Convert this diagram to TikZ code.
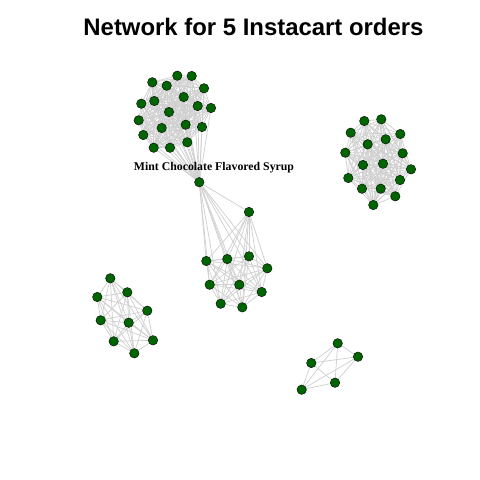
\documentclass[tikz,border=0pt]{standalone}
\usepackage{fontspec}
\setmainfont{Liberation Serif}
\setsansfont{Liberation Sans}

\definecolor{itemgreen}{RGB}{0,100,0}
\definecolor{tiegray}{RGB}{208,208,208}
\pgfdeclarelayer{bg}
\pgfsetlayers{bg,main}

\begin{document}
\begin{tikzpicture}[x=1pt,y=-1pt,semithick]
  \tikzstyle{item}=[circle,fill=itemgreen,draw=black,thin,inner sep=0pt,minimum size=9.5pt]
  \tikzstyle{tie}=[draw=tiegray,line width=0.75pt]
  \useasboundingbox (0,0) rectangle (480,480);

  % title
  \node[anchor=base,font=\sffamily\bfseries\fontsize{23.9}{24}\selectfont] (title) at (253.5,35.5) {Network for 5 Instacart orders};

  % order 1 (top left)
  \node[item] (t1)  at (152.3,82.3) {};
  \node[item] (t2)  at (177.3,75.7) {};
  \node[item] (t3)  at (191.7,76) {};
  \node[item] (t4)  at (166.7,85.7) {};
  \node[item] (t5)  at (204,88.3) {};
  \node[item] (t6)  at (183.7,97) {};
  \node[item] (t7)  at (154.3,101) {};
  \node[item] (t8)  at (141.3,103.7) {};
  \node[item] (t9)  at (197.7,106) {};
  \node[item] (t10) at (211,108) {};
  \node[item] (t11) at (169,112) {};
  \node[item] (t12) at (138.7,120.3) {};
  \node[item] (t13) at (185.7,124.7) {};
  \node[item] (t14) at (161.7,128) {};
  \node[item] (t15) at (202,127) {};
  \node[item] (t16) at (143.3,135) {};
  \node[item] (t17) at (187.3,142.3) {};
  \node[item] (t18) at (153.7,147.7) {};
  \node[item] (t19) at (170,147.7) {};
  \node[item] (mint) at (199.3,182.2) {};
  \node[anchor=base,font=\bfseries\fontsize{11.8}{12}\selectfont] (mintlabel) at (214,170.7) {Mint Chocolate Flavored Syrup};

  % order 2 (top right)
  \node[item] (r1)  at (364.3,121) {};
  \node[item] (r2)  at (381.3,119.3) {};
  \node[item] (r3)  at (350.7,132.7) {};
  \node[item] (r4)  at (400.3,134) {};
  \node[item] (r5)  at (385.7,139.3) {};
  \node[item] (r6)  at (367.7,144.3) {};
  \node[item] (r7)  at (345.3,152.7) {};
  \node[item] (r8)  at (402.7,153.3) {};
  \node[item] (r9)  at (363,165) {};
  \node[item] (r10) at (383,163.7) {};
  \node[item] (r11) at (411,169.3) {};
  \node[item] (r12) at (348.3,178) {};
  \node[item] (r13) at (400,180) {};
  \node[item] (r14) at (362,188.7) {};
  \node[item] (r15) at (380.7,188.7) {};
  \node[item] (r16) at (395.3,196.3) {};
  \node[item] (r17) at (373.3,205) {};

  % order 3 (middle)
  \node[item] (c1)  at (249,212) {};
  \node[item] (c2)  at (206.3,261) {};
  \node[item] (c3)  at (227.3,259) {};
  \node[item] (c4)  at (249,256.3) {};
  \node[item] (c5)  at (267.3,268.3) {};
  \node[item] (c6)  at (209.7,284.7) {};
  \node[item] (c7)  at (239.3,284.7) {};
  \node[item] (c8)  at (261.7,292) {};
  \node[item] (c9)  at (220.7,303.7) {};
  \node[item] (c10) at (242.3,307.3) {};

  % order 4 (bottom left)
  \node[item] (d1) at (110.3,278.3) {};
  \node[item] (d2) at (97.3,297) {};
  \node[item] (d3) at (127.3,292.3) {};
  \node[item] (d4) at (147.3,310.7) {};
  \node[item] (d5) at (100.7,320.3) {};
  \node[item] (d6) at (128.7,322.7) {};
  \node[item] (d7) at (113.7,341.3) {};
  \node[item] (d8) at (153,340.3) {};
  \node[item] (d9) at (134.3,353.3) {};

  % order 5 (bottom right)
  \node[item] (e1) at (337.7,343.3) {};
  \node[item] (e2) at (358,356.7) {};
  \node[item] (e3) at (311.3,363) {};
  \node[item] (e4) at (335,382.7) {};
  \node[item] (e5) at (301.7,389.7) {};

  % every order is a clique
  \begin{pgfonlayer}{bg}
    \foreach \i in {1,...,19} {
      \draw[tie] (mint) -- (t\i);
      \foreach \j in {1,...,19} {\ifnum\i<\j \draw[tie] (t\i) -- (t\j);\fi}
    }
    \foreach \i in {1,...,17} {
      \foreach \j in {1,...,17} {\ifnum\i<\j \draw[tie] (r\i) -- (r\j);\fi}
    }
    \foreach \i in {1,...,10} {
      \draw[tie] (mint) -- (c\i);
      \foreach \j in {1,...,10} {\ifnum\i<\j \draw[tie] (c\i) -- (c\j);\fi}
    }
    \foreach \i in {1,...,9} {
      \foreach \j in {1,...,9} {\ifnum\i<\j \draw[tie] (d\i) -- (d\j);\fi}
    }
    \foreach \i in {1,...,5} {
      \foreach \j in {1,...,5} {\ifnum\i<\j \draw[tie] (e\i) -- (e\j);\fi}
    }
  \end{pgfonlayer}
\end{tikzpicture}
\end{document}
